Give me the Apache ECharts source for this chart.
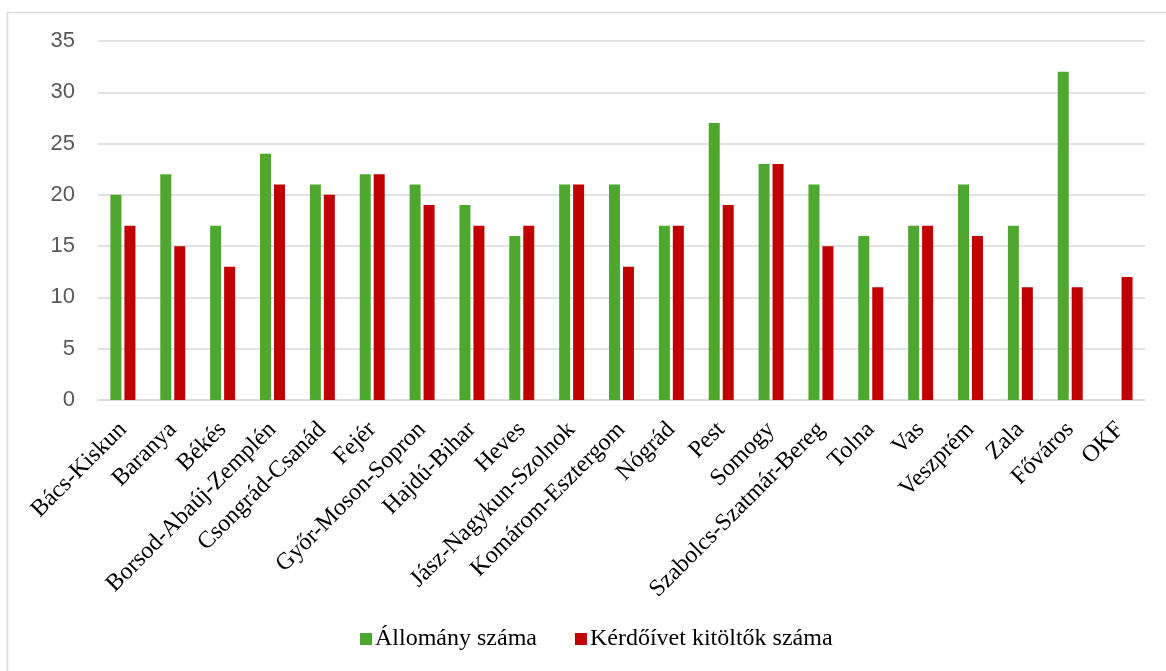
<!DOCTYPE html>
<html>
<head>
<meta charset="utf-8">
<script src="https://cdn.jsdelivr.net/npm/echarts@6/dist/echarts.min.js"></script>
<style>html,body{margin:0;padding:0;background:#fff}#c{width:1166px;height:671px}</style>
</head>
<body>
<div id="c"></div>
<script>
const categories = ['Bács-Kiskun','Baranya','Békés','Borsod-Abaúj-Zemplén','Csongrád-Csanád','Fejér','Győr-Moson-Sopron','Hajdú-Bihar','Heves','Jász-Nagykun-Szolnok','Komárom-Esztergom','Nógrád','Pest','Somogy','Szabolcs-Szatmár-Bereg','Tolna','Vas','Veszprém','Zala','Főváros','OKF'];
const allomany = [20,22,17,24,21,22,21,19,16,21,21,17,27,23,21,16,17,21,17,32,null];
const kerdoiv = [17,15,13,21,20,22,19,17,17,21,13,17,19,23,15,11,17,16,11,11,12];
const seriesNames = ['Állomány száma','Kérdőívet kitöltők száma'];

const chart = echarts.init(document.getElementById('c'), null, {renderer:'canvas'});
chart.setOption({
  animation:false,
  graphic:[{type:'rect',shape:{x:7.5,y:12.5,width:1300,height:800},style:{fill:'none',stroke:'#d9d9d9',lineWidth:1.5},silent:true}],
  grid:{left:98,right:21,top:41,bottom:271,containLabel:false},
  legend:{
    left:355, top:622, itemWidth:12, itemHeight:12, itemGap:38,
    icon:'rect',
    textStyle:{fontFamily:'Liberation Serif',fontSize:24,color:'#000',padding:[0,0,0,-2]},
    data:seriesNames
  },
  xAxis:{
    type:'category', data:categories,
    axisLine:{lineStyle:{color:'#d9d9d9',width:1.5}},
    axisTick:{show:false},
    axisLabel:{rotate:45,interval:0,margin:26,fontFamily:'Liberation Serif',fontSize:24,color:'#000'}
  },
  yAxis:{
    type:'value', min:0, max:35, interval:5,
    axisLine:{show:false}, axisTick:{show:false},
    splitLine:{lineStyle:{color:'#d9d9d9',width:1.5}},
    axisLabel:{margin:23,fontFamily:'Liberation Sans',fontSize:22,color:'#595959'}
  },
  series:[
    {name:seriesNames[0],type:'bar',data:allomany,barWidth:11,barGap:'27%',itemStyle:{color:'#4ea72e'}},
    {name:seriesNames[1],type:'bar',data:kerdoiv,barWidth:11,barGap:'27%',itemStyle:{color:'#c00000'}}
  ]
});
</script>
</body>
</html>
